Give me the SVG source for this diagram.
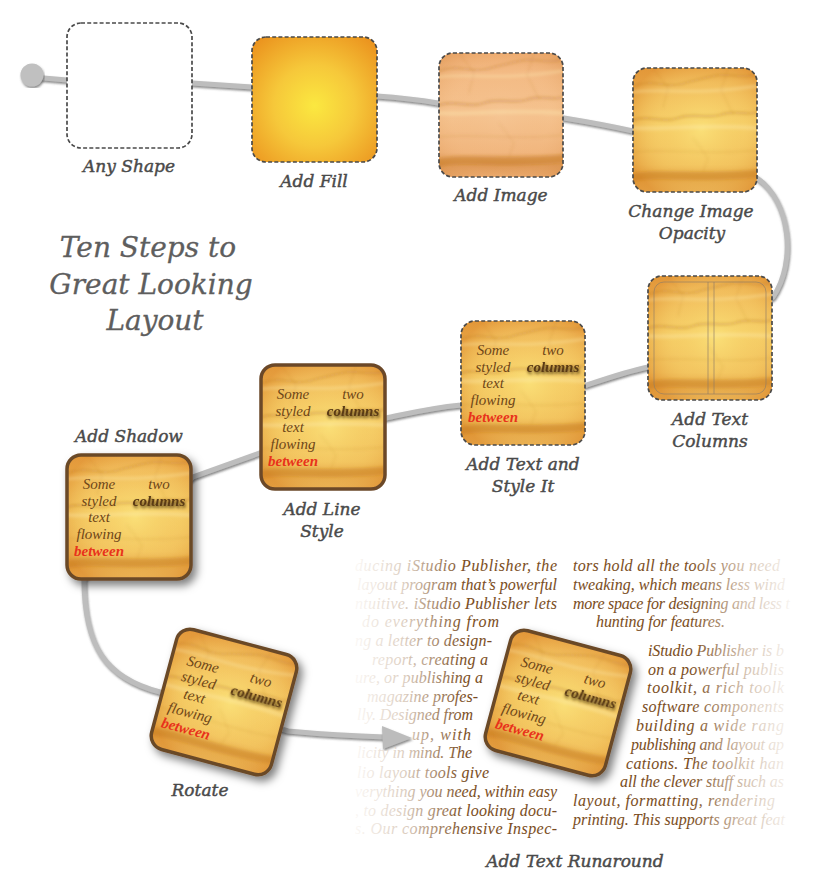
<svg xmlns="http://www.w3.org/2000/svg" xmlns:xlink="http://www.w3.org/1999/xlink" width="830" height="890" viewBox="0 0 830 890">
<style>
.lbl{font-family:"DejaVu Serif","Liberation Serif",serif;font-style:italic;font-size:17px;fill:#4a4a4a;stroke:#4a4a4a;stroke-width:0.45;text-anchor:middle}
.title{font-family:"DejaVu Serif","Liberation Serif",serif;font-style:italic;font-size:28px;fill:#5e5e5e;stroke:#5e5e5e;stroke-width:0.3;text-anchor:middle}
.in{font-family:"Liberation Serif",serif;font-style:italic;font-size:15px;fill:#6e4618;text-anchor:middle}
.cb{font-weight:bold;fill:#5a3a14}
.red{font-weight:bold;fill:#e8321b}
.dash{fill:none;stroke:#4a4a4a;stroke-width:1.7;stroke-dasharray:4 2.2}
.brd{fill:none;stroke:#6b4828;stroke-width:3.5}
.runL{font-family:"Liberation Serif",serif;font-style:italic;font-size:16px;fill:url(#fadeL)}
.runR{font-family:"Liberation Serif",serif;font-style:italic;font-size:16px;fill:url(#fadeR)}
.guide{fill:none;stroke:#8e7c66;stroke-width:0.8;stroke-opacity:0.8}
</style>
<defs>
<radialGradient id="fillRad" cx="0.5" cy="0.55" r="0.72">
<stop offset="0" stop-color="#fbe840"/>
<stop offset="0.45" stop-color="#f6c83a"/>
<stop offset="1" stop-color="#ea8f1c"/>
</radialGradient>
<linearGradient id="tone" x1="0" y1="0" x2="0" y2="1">
<stop offset="0" stop-color="#e9a448"/>
<stop offset="0.12" stop-color="#f1bb5c"/>
<stop offset="0.45" stop-color="#f6cf68"/>
<stop offset="0.78" stop-color="#f2c25e"/>
<stop offset="0.9" stop-color="#e2a043"/>
<stop offset="1" stop-color="#eab35a"/>
</linearGradient>
<radialGradient id="glow" cx="0.55" cy="0.5" r="0.62">
<stop offset="0" stop-color="#fbe27a" stop-opacity="0.85"/>
<stop offset="0.55" stop-color="#f6cf66" stop-opacity="0.2"/>
<stop offset="1" stop-color="#df9030" stop-opacity="0.65"/>
</radialGradient>
<linearGradient id="tone2" x1="0" y1="0" x2="0" y2="1">
<stop offset="0" stop-color="#eeac70"/>
<stop offset="0.15" stop-color="#f3ba84"/>
<stop offset="0.5" stop-color="#f5c38f"/>
<stop offset="0.8" stop-color="#f1b67e"/>
<stop offset="0.9" stop-color="#dc9550"/>
<stop offset="1" stop-color="#eaa86c"/>
</linearGradient>
<radialGradient id="glow2" cx="0.5" cy="0.5" r="0.65">
<stop offset="0" stop-color="#f6c898" stop-opacity="0.4"/>
<stop offset="0.6" stop-color="#f2b880" stop-opacity="0.05"/>
<stop offset="1" stop-color="#dc9450" stop-opacity="0.45"/>
</radialGradient>
<linearGradient id="fadeL" gradientUnits="userSpaceOnUse" x1="355" y1="0" x2="465" y2="0">
<stop offset="0" stop-color="#fbf8f5"/>
<stop offset="0.45" stop-color="#dccdbf"/>
<stop offset="1" stop-color="#7a4c22"/>
</linearGradient>
<linearGradient id="fadeR" gradientUnits="userSpaceOnUse" x1="690" y1="0" x2="795" y2="0">
<stop offset="0" stop-color="#7a4c22"/>
<stop offset="0.5" stop-color="#cfbba8"/>
<stop offset="1" stop-color="#fcfaf8"/>
</linearGradient>
<clipPath id="pc" clipPathUnits="userSpaceOnUse"><rect width="124" height="124" rx="14"/></clipPath>
<clipPath id="clipL"><rect x="355" y="550" width="206" height="300"/></clipPath>
<clipPath id="clipR"><rect x="570" y="550" width="222" height="300"/></clipPath>
<filter id="soft" x="-10%" y="-10%" width="120%" height="120%"><feGaussianBlur stdDeviation="1.6"/></filter>
<filter id="shadow" x="-20%" y="-20%" width="150%" height="150%"><feDropShadow dx="4" dy="5" stdDeviation="4" flood-color="#000" flood-opacity="0.5"/></filter>
<filter id="lineSh" x="-5%" y="-5%" width="110%" height="110%"><feDropShadow dx="0.8" dy="1.8" stdDeviation="0.9" flood-color="#555" flood-opacity="0.7"/></filter>
<filter id="txtSh" x="-20%" y="-50%" width="140%" height="220%"><feDropShadow dx="1" dy="2" stdDeviation="1.6" flood-color="#3a2408" flood-opacity="0.9"/></filter>
<g id="wrinkles" clip-path="url(#pc)">
<g filter="url(#soft)" fill="none" stroke-linecap="round">
<path d="M0,18 C20,10 35,22 55,14 L80,8 C95,4 110,12 124,6" stroke="#a8621a" stroke-opacity="0.25" stroke-width="2"/>
<path d="M0,24 C30,20 60,28 124,18" stroke="#fff2b8" stroke-opacity="0.3" stroke-width="3"/>
<path d="M0,52 C15,46 30,56 45,50 C60,44 75,52 90,46 C105,42 115,48 124,44" stroke="#a8621a" stroke-opacity="0.28" stroke-width="2.4"/>
<path d="M0,60 C30,62 60,56 124,60" stroke="#fff2b8" stroke-opacity="0.3" stroke-width="4"/>
<path d="M20,0 L35,20 L30,40" stroke="#a8621a" stroke-opacity="0.15" stroke-width="1.2"/>
<path d="M95,0 L88,22 L100,46" stroke="#a8621a" stroke-opacity="0.15" stroke-width="1.2"/>
<path d="M60,70 L75,90 L70,104" stroke="#a8621a" stroke-opacity="0.12" stroke-width="1.2"/>
<path d="M0,84 C40,80 80,88 124,82" stroke="#a8621a" stroke-opacity="0.14" stroke-width="1.5"/>
<path d="M-4,110 C30,103 70,112 128,105" stroke="#c07520" stroke-opacity="0.42" stroke-width="8"/>
</g>
</g>
<g id="paper">
<rect width="124" height="124" rx="14" fill="url(#tone)"/>
<rect width="124" height="124" rx="14" fill="url(#glow)"/>
<use href="#wrinkles"/>
</g>
<g id="peach">
<rect width="124" height="124" rx="14" fill="url(#tone2)"/>
<rect width="124" height="124" rx="14" fill="url(#glow2)"/>
<use href="#wrinkles"/>
</g>
</defs>

<rect width="830" height="890" fill="#ffffff"/>

<g id="connectors">
<path id="route" d="M32,77 L67,80 L192,83 L252,87 L377,96 C405,98 420,100 438,103 L564,118 C595,123 615,127 633,131 L757,178 C790,200 797,262 773,297 L648,367 C625,372 605,379 587,385 L461,405 C430,408 410,413 386,418 L260,453 C235,462 212,470 193,477 L84,579 C84,645 105,678 160,692 L288,731 C320,734 350,736 385,737" fill="none" stroke="#bdbdbd" stroke-width="5" filter="url(#lineSh)"/>
<circle cx="32" cy="75" r="11.5" fill="#c0c0c0" filter="url(#lineSh)"/>
<polygon points="382,726 412,738 383,749" fill="#bcbcbc" filter="url(#lineSh)"/>
</g>

<g id="title">
<text class="title" x="148" y="257">Ten Steps to</text>
<text class="title" x="151" y="294">Great Looking</text>
<text class="title" x="155" y="330">Layout</text>
</g>

<g id="n1">
<rect x="67" y="23" width="125" height="125" rx="14" fill="#ffffff"/>
<rect x="67" y="23" width="125" height="125" rx="14" class="dash"/>
<text class="lbl" x="129" y="172">Any Shape</text>
</g>

<g id="n2">
<rect x="252" y="37" width="125" height="125" rx="14" fill="url(#fillRad)"/>
<rect x="252" y="37" width="125" height="125" rx="14" class="dash"/>
<text class="lbl" x="314" y="187">Add Fill</text>
</g>

<g id="n3">
<use href="#peach" x="439" y="53"/>
<rect x="439" y="53" width="124" height="124" rx="14" class="dash"/>
<text class="lbl" x="501" y="201">Add Image</text>
</g>

<g id="n4">
<use href="#paper" x="633" y="68"/>
<rect x="633" y="68" width="124" height="124" rx="14" class="dash"/>
<text class="lbl" x="691" y="217">Change Image</text>
<text class="lbl" x="692" y="239">Opacity</text>
</g>

<g id="n5">
<use href="#paper" x="648" y="276"/>
<rect x="654" y="282" width="112" height="112" rx="10" class="guide"/>
<line x1="708" y1="282" x2="708" y2="394" class="guide"/>
<line x1="714" y1="282" x2="714" y2="394" class="guide"/>
<rect x="648" y="276" width="124" height="124" rx="14" class="dash"/>
<text class="lbl" x="710" y="425">Add Text</text>
<text class="lbl" x="710" y="447">Columns</text>
</g>

<g id="n6">
<use href="#paper" x="461" y="321"/>
<rect x="461" y="321" width="124" height="124" rx="14" class="dash"/>
<text class="in" x="493" y="355">Some</text>
<text class="in" x="493" y="371.5">styled</text>
<text class="in" x="493" y="388">text</text>
<text class="in" x="493" y="405">flowing</text>
<text class="in red" x="493" y="421.5">between</text>
<text class="in" x="553" y="355">two</text>
<text class="in cb" x="553" y="371.5" filter="url(#txtSh)">columns</text>
<text class="lbl" x="523" y="470">Add Text and</text>
<text class="lbl" x="523" y="492">Style It</text>
</g>

<g id="n7">
<use href="#paper" x="261" y="365"/>
<rect x="261" y="365" width="124" height="124" rx="14" class="brd"/>
<text class="in" x="293" y="399">Some</text>
<text class="in" x="293" y="415.5">styled</text>
<text class="in" x="293" y="432">text</text>
<text class="in" x="293" y="449">flowing</text>
<text class="in red" x="293" y="465.5">between</text>
<text class="in" x="353" y="399">two</text>
<text class="in cb" x="353" y="415.5" filter="url(#txtSh)">columns</text>
<text class="lbl" x="322" y="515">Add Line</text>
<text class="lbl" x="322" y="537">Style</text>
</g>

<g id="n8">
<g filter="url(#shadow)">
<use href="#paper" x="67" y="455"/>
<rect x="67" y="455" width="124" height="124" rx="14" class="brd"/>
</g>
<text class="in" x="99" y="489">Some</text>
<text class="in" x="99" y="505.5">styled</text>
<text class="in" x="99" y="522">text</text>
<text class="in" x="99" y="539">flowing</text>
<text class="in red" x="99" y="555.5">between</text>
<text class="in" x="159" y="489">two</text>
<text class="in cb" x="159" y="505.5" filter="url(#txtSh)">columns</text>
<text class="lbl" x="129" y="442">Add Shadow</text>
</g>

<g id="n9">
<g filter="url(#shadow)">
<g transform="translate(224,702) rotate(15)">
<use href="#paper" x="-62" y="-62"/>
<rect x="-62" y="-62" width="124" height="124" rx="14" class="brd"/>
</g>
</g>
<g transform="translate(224,702) rotate(15)">
<text class="in" x="-30" y="-26">Some</text>
<text class="in" x="-30" y="-9.5">styled</text>
<text class="in" x="-30" y="7">text</text>
<text class="in" x="-30" y="24">flowing</text>
<text class="in red" x="-30" y="40.5">between</text>
<text class="in" x="30" y="-26">two</text>
<text class="in cb" x="30" y="-9.5" filter="url(#txtSh)">columns</text>
</g>
<text class="lbl" x="200" y="796">Rotate</text>
</g>

<g id="n10">
<g clip-path="url(#clipL)">
<text class="runL" x="355" y="571" textLength="202" lengthAdjust="spacing">ducing iStudio Publisher, the</text>
<text class="runL" x="357" y="590" textLength="200" lengthAdjust="spacing">layout program that’s powerful</text>
<text class="runL" x="355" y="609" textLength="202" lengthAdjust="spacing">ntuitive. iStudio Publisher lets</text>
<text class="runL" x="362" y="627" textLength="137" lengthAdjust="spacing">do everything from</text>
<text class="runL" x="355" y="646" textLength="137" lengthAdjust="spacing">ng a letter to design-</text>
<text class="runL" x="372" y="665" textLength="116" lengthAdjust="spacing">report, creating a</text>
<text class="runL" x="355" y="683" textLength="128" lengthAdjust="spacing">ure, or publishing a</text>
<text class="runL" x="367" y="702" textLength="111" lengthAdjust="spacing">magazine profes-</text>
<text class="runL" x="357" y="720" textLength="116" lengthAdjust="spacing">lly. Designed from</text>
<text class="runL" x="412" y="740" textLength="59" lengthAdjust="spacing">up, with</text>
<text class="runL" x="357" y="758" textLength="115" lengthAdjust="spacing">licity in mind. The</text>
<text class="runL" x="357" y="778" textLength="132" lengthAdjust="spacing">lio layout tools give</text>
<text class="runL" x="355" y="797" textLength="202" lengthAdjust="spacing">verything you need, within easy</text>
<text class="runL" x="355" y="816" textLength="202" lengthAdjust="spacing">, to design great looking docu-</text>
<text class="runL" x="355" y="834" textLength="202" lengthAdjust="spacing">s. Our comprehensive Inspec-</text>
</g>
<g clip-path="url(#clipR)">
<text class="runR" x="573" y="571" textLength="207" lengthAdjust="spacing">tors hold all the tools you need</text>
<text class="runR" x="573" y="590" textLength="212" lengthAdjust="spacing">tweaking, which means less wind</text>
<text class="runR" x="573" y="609" textLength="217" lengthAdjust="spacing">more space for designing and less t</text>
<text class="runR" x="596" y="627" textLength="129" lengthAdjust="spacing">hunting for features.</text>
<text class="runR" x="648" y="656" textLength="136" lengthAdjust="spacing">iStudio Publisher is b</text>
<text class="runR" x="648" y="675" textLength="136" lengthAdjust="spacing">on a powerful publis</text>
<text class="runR" x="647" y="693" textLength="137" lengthAdjust="spacing">toolkit, a rich toolk</text>
<text class="runR" x="642" y="712" textLength="142" lengthAdjust="spacing">software components</text>
<text class="runR" x="636" y="731" textLength="148" lengthAdjust="spacing">building a wide rang</text>
<text class="runR" x="631" y="750" textLength="153" lengthAdjust="spacing">publishing and layout ap</text>
<text class="runR" x="626" y="769" textLength="158" lengthAdjust="spacing">cations. The toolkit han</text>
<text class="runR" x="620" y="787" textLength="164" lengthAdjust="spacing">all the clever stuff such as</text>
<text class="runR" x="573" y="806" textLength="202" lengthAdjust="spacing">layout, formatting, rendering</text>
<text class="runR" x="573" y="825" textLength="212" lengthAdjust="spacing">printing. This supports great feat</text>
</g>
<g filter="url(#shadow)">
<g transform="translate(558,703) rotate(15)">
<use href="#paper" x="-62" y="-62"/>
<rect x="-62" y="-62" width="124" height="124" rx="14" class="brd"/>
</g>
</g>
<g transform="translate(558,703) rotate(15)">
<text class="in" x="-30" y="-26">Some</text>
<text class="in" x="-30" y="-9.5">styled</text>
<text class="in" x="-30" y="7">text</text>
<text class="in" x="-30" y="24">flowing</text>
<text class="in red" x="-30" y="40.5">between</text>
<text class="in" x="30" y="-26">two</text>
<text class="in cb" x="30" y="-9.5" filter="url(#txtSh)">columns</text>
</g>
<text class="lbl" x="575" y="867">Add Text Runaround</text>
</g>
</svg>
